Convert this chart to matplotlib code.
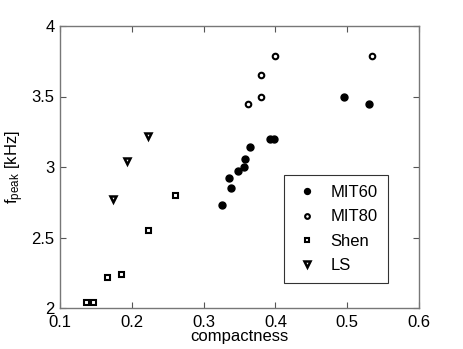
import matplotlib
matplotlib.use("Agg")
import matplotlib.pyplot as plt

plt.rcParams["font.family"] = ["Liberation Sans", "DejaVu Sans"]

# compactness / peak frequency [kHz]
mit60_x = [0.326, 0.336, 0.338, 0.348, 0.356, 0.358, 0.364, 0.392, 0.398, 0.496, 0.530]
mit60_y = [2.73, 2.92, 2.85, 2.97, 3.00, 3.06, 3.14, 3.20, 3.20, 3.50, 3.45]

mit80_x = [0.362, 0.380, 0.380, 0.400, 0.534]
mit80_y = [3.45, 3.50, 3.65, 3.79, 3.79]

shen_x = [0.136, 0.1455, 0.166, 0.185, 0.223, 0.260]
shen_y = [2.04, 2.04, 2.22, 2.24, 2.55, 2.80]

ls_x = [0.174, 0.193, 0.223]
ls_y = [2.77, 3.04, 3.22]

fig = plt.figure(figsize=(4.63, 3.49), dpi=100)
ax = fig.add_axes([60 / 463, 1 - 308 / 349, 359 / 463, 282 / 349])

ax.plot(mit60_x, mit60_y, "o", color="k", ms=5, label="MIT60")
ax.plot(mit80_x, mit80_y, "o", mfc="white", mec="k", mew=1.5, ms=4.0, label="MIT80")
ax.plot(shen_x, shen_y, "s", mfc="white", mec="k", mew=1.5, ms=3.6, label="Shen")
ax.plot(ls_x, ls_y, "v", mfc="white", mec="k", mew=1.8, ms=4.6, label="LS")

ax.set_xlim(0.1, 0.6)
ax.set_ylim(2, 4)
ax.set_xticks([0.1, 0.2, 0.3, 0.4, 0.5, 0.6])
ax.set_xticklabels(["0.1", "0.2", "0.3", "0.4", "0.5", "0.6"])
ax.set_yticks([2, 2.5, 3, 3.5, 4])
ax.set_yticklabels(["2", "2.5", "3", "3.5", "4"])
ax.tick_params(direction="in", length=4, labelsize=12, top=True, right=True,
               color="#555555")
ax.tick_params(axis="x", pad=5)
ax.tick_params(axis="y", pad=4)
for s in ax.spines.values():
    s.set_color("#777777")
    s.set_linewidth(1.0)

ax.set_xlabel("compactness", fontsize=12, labelpad=-1)
ax.set_ylabel(r"$\mathregular{f_{peak}}$ [kHz]", fontsize=12, labelpad=4)

leg = ax.legend(loc="lower left", bbox_to_anchor=(0.6, 0.06), fontsize=12,
                frameon=True, fancybox=False, edgecolor="k", borderpad=0.6,
                labelspacing=0.55, handletextpad=0.6, handlelength=1.6,
                numpoints=1, markerscale=0.85)
leg.get_frame().set_linewidth(0.8)

fig.savefig("out.png", dpi=100)
